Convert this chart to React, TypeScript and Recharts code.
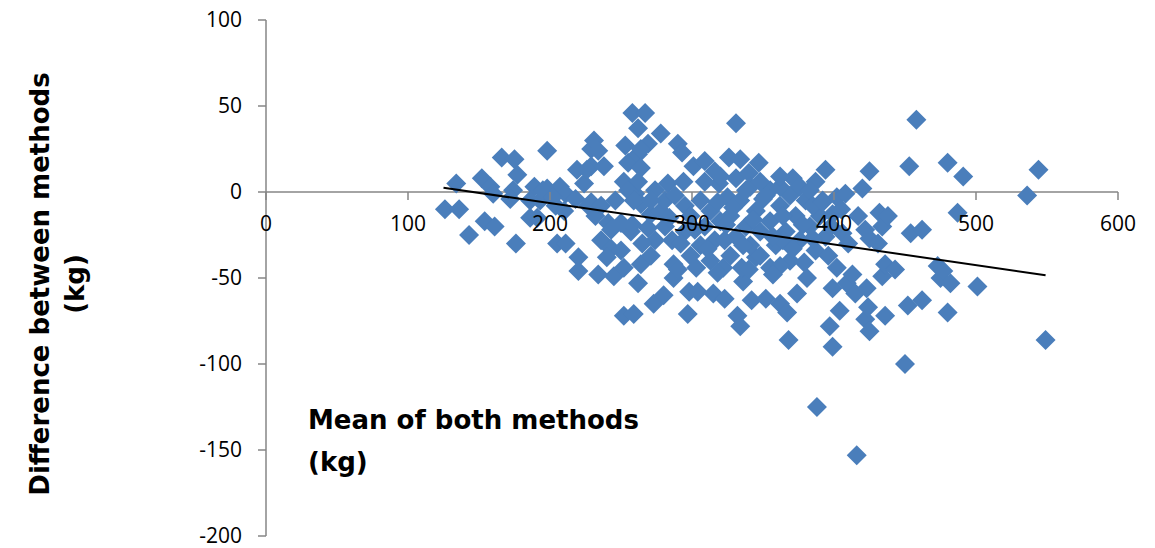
import React from 'react';
import { ScatterChart, Scatter, XAxis, YAxis, ReferenceLine } from 'recharts';

// Paired observations: [mean of both methods (kg), difference between methods (kg)]
const OBSERVATIONS: [number, number][] = [
  [126, -10], [134, 5], [136, -10], [143, -25], [152, 8], [154, -17], [158, 3], [161, -20],
  [166, 20], [160, -1], [175, 19], [176, -30], [174, 1], [177, 10], [186, -15], [189, 3],
  [193, -5], [198, 24], [198, 2], [204, -8], [205, -30], [207, 3], [211, -1], [211, -30],
  [218, -4], [219, 13], [220, -38], [220, -46], [224, 5], [227, -8], [229, 25], [229, 15],
  [229, -6], [231, 30], [232, -14], [234, -48], [236, -8], [236, -28], [238, 15], [241, -18],
  [243, -33], [243, -22], [245, -49], [250, -34], [252, 6], [252, -44], [252, -72], [253, 27],
  [255, 17], [257, -23], [259, -71], [258, 46], [260, -1], [262, 37], [262, 22], [262, -53],
  [264, 14], [264, -7], [264, -42], [267, 46], [269, 28], [269, -21], [271, -13], [271, -37],
  [273, -65], [278, 34], [278, -11], [280, -60], [283, 5], [286, -28], [287, -42], [287, -50],
  [290, 28], [294, 6], [297, -71], [298, -58], [301, 15], [304, -58], [315, -59], [319, 5],
  [322, -44], [323, -62], [325, -3], [326, 20], [331, 40], [331, 8], [332, -72], [334, 19],
  [334, -78], [336, -52], [340, 11], [342, -63], [345, -38], [347, 17], [352, -62], [355, -44],
  [355, 1], [362, -65], [367, -70], [368, -86], [371, 8], [381, -50], [388, -125], [392, -5],
  [394, 13], [397, -78], [399, -90], [399, -56], [399, -13], [402, -3], [402, -44], [404, -69],
  [406, -24], [408, -1], [409, -53], [413, -48], [415, -59], [416, -153], [417, -14], [420, 2],
  [422, -22], [422, -74], [423, -56], [424, -67], [425, 12], [425, -27], [425, -81], [431, -30],
  [432, -12], [434, -20], [434, -49], [436, -42], [436, -72], [438, -14], [443, -45], [450, -100],
  [452, -66], [453, 15], [454, -24], [458, 42], [462, -22], [462, -63], [473, -43], [475, -50],
  [477, -46], [480, 17], [480, -70], [482, -53], [487, -12], [491, 9], [501, -55], [536, -2],
  [544, 13], [549, -86],
  [274, 1], [281, -5], [288, -2], [295, -8], [299, -14], [306, -5], [309, -20], [313, -11],
  [316, -28], [320, -17], [327, -14], [331, -26], [334, -5], [338, -20], [341, -31], [345, -11],
  [348, -23], [352, -2], [355, -17], [359, -31], [362, -8], [366, -23], [369, -2], [373, -14],
  [376, -28], [380, -5], [383, -20], [387, -34], [390, -14], [394, -26], [306, -31], [299, -37],
  [313, -40], [327, -37], [348, -37], [369, -40], [362, -43], [320, 9], [341, 3], [309, 6],
  [295, -23], [281, -20], [274, -28], [387, 6], [376, 3], [362, 3], [338, 1], [348, 6],
  [309, 18], [316, 12], [362, 9], [383, 1], [385, -8], [323, -28], [293, 23],
  [335, -44], [374, -59], [364, -28], [172, -4], [186, -5], [195, 1], [202, -3], [234, 24],
  [264, 25], [262, 6], [226, 13], [255, 1], [259, -5], [271, -5], [258, -19], [191, -15], [210, -11],
  [284, -15], [292, -30], [302, -22], [311, -33], [318, -6], [324, -19], [329, -9], [336, -31],
  [343, -16], [350, -4], [357, -26], [364, -14], [371, -33], [378, -19], [385, -27], [392, -6],
  [398, -20], [405, -10], [303, -44], [318, -47], [340, -45], [357, -48], [379, -41], [290, -45],
  [396, -37], [410, -30], [265, -30], [246, -5], [250, -18], [240, -38],
];

// Linear trend of difference against mean (end points)
const TREND_MEAN = [125, 549];
const TREND_DIFF = [2.5, -48.4];

const X_TICKS = [0, 100, 200, 300, 400, 500, 600];
const Y_TICKS = [-200, -150, -100, -50, 0, 50, 100];
const X_DOMAIN: [number, number] = [0, 600];
const Y_DOMAIN: [number, number] = [-200, 100];

const X_TITLE = ['Mean of both methods', '(kg)'];
const Y_TITLE = ['Difference between methods', '(kg)'];

const CHART_W = 1147;
const CHART_H = 548;
const MARGIN = { top: 20, right: 37, bottom: 0, left: 0 };
const Y_AXIS_W = 258;
const X_AXIS_H = 12;
const PLOT_H = CHART_H - MARGIN.top - MARGIN.bottom - X_AXIS_H;
// distance from the plot bottom up to the zero line, where the x axis sits
const ZERO_OFFSET = (PLOT_H * (0 - Y_DOMAIN[0])) / (Y_DOMAIN[1] - Y_DOMAIN[0]);

const AXIS_GREY = '#868686';
const MARKER_BLUE = '#4A7EBB';
const TICK_FONT = '"Open Sans", "Liberation Sans", sans-serif';
const TICK_SIZE_PX = 21;
const TITLE_FONT = '"DejaVu Sans", Verdana, sans-serif';

const points = OBSERVATIONS.map(([mean, diff]) => ({ x: mean, y: diff }));
const trend = TREND_MEAN.map((x, i) => ({ x, y: TREND_DIFF[i] }));

const Diamond = (props: any) => {
  const { cx, cy } = props;
  if (cx == null || cy == null) return <g />;
  const r = 10;
  return (
    <path
      d={`M${cx},${cy - r}L${cx + r},${cy}L${cx},${cy + r}L${cx - r},${cy}Z`}
      fill={MARKER_BLUE}
    />
  );
};

const NoMarker = () => <g />;

// x-axis ticks are drawn on the zero line rather than at the plot bottom
const XTick = (props: any) => {
  const { x, y, payload } = props;
  const y0 = y - ZERO_OFFSET;
  return (
    <g>
      <line x1={x} y1={y0} x2={x} y2={y0 + 8} stroke={AXIS_GREY} strokeWidth={1.5} />
      <text
        x={x}
        y={y0 + 31}
        textAnchor="middle"
        dominantBaseline="central"
        fill="#000"
        fontSize={TICK_SIZE_PX}
        fontFamily={TICK_FONT}
      >
        {payload.value}
      </text>
    </g>
  );
};

export default function App() {
  return (
    <div
      style={{
        position: 'relative',
        width: CHART_W,
        height: CHART_H,
        marginTop: -8,
        background: '#fff',
      }}
    >
      <ScatterChart width={CHART_W} height={CHART_H} margin={MARGIN}>
        <ReferenceLine y={0} stroke={AXIS_GREY} strokeWidth={1.5} />
        <Scatter data={points} shape={Diamond} isAnimationActive={false} />
        <Scatter
          data={trend}
          shape={NoMarker}
          line={{ stroke: '#000', strokeWidth: 2 }}
          isAnimationActive={false}
        />
        <XAxis
          type="number"
          dataKey="x"
          domain={X_DOMAIN}
          ticks={X_TICKS}
          interval={0}
          height={X_AXIS_H}
          axisLine={false}
          tickLine={false}
          tickSize={0}
          tickMargin={0}
          tick={<XTick />}
          allowDataOverflow
          zIndex={1000}
        />
        <YAxis
          type="number"
          dataKey="y"
          domain={Y_DOMAIN}
          ticks={Y_TICKS}
          interval={0}
          width={Y_AXIS_W}
          stroke={AXIS_GREY}
          strokeWidth={1.5}
          tickSize={8}
          tickMargin={16}
          tick={{ fill: '#000', fontSize: TICK_SIZE_PX, fontFamily: TICK_FONT }}
          allowDataOverflow
        />
      </ScatterChart>

      <div
        style={{
          position: 'absolute',
          left: 50 - 250,
          top: 284 - 35,
          width: 500,
          height: 70,
          lineHeight: '35px',
          textAlign: 'center',
          transform: 'rotate(-90deg)',
          transformOrigin: '50% 50%',
          fontFamily: TITLE_FONT,
          fontWeight: 'bold',
          fontSize: 26,
          color: '#000',
          whiteSpace: 'nowrap',
        }}
      >
        {Y_TITLE.map((line) => (
          <div key={line}>{line}</div>
        ))}
      </div>

      <div
        style={{
          position: 'absolute',
          left: 300,
          top: 399,
          lineHeight: '42px',
          fontFamily: TITLE_FONT,
          fontWeight: 'bold',
          fontSize: 26,
          color: '#000',
          whiteSpace: 'nowrap',
        }}
      >
        {X_TITLE.map((line) => (
          <div key={line}>{line}</div>
        ))}
      </div>
    </div>
  );
}
